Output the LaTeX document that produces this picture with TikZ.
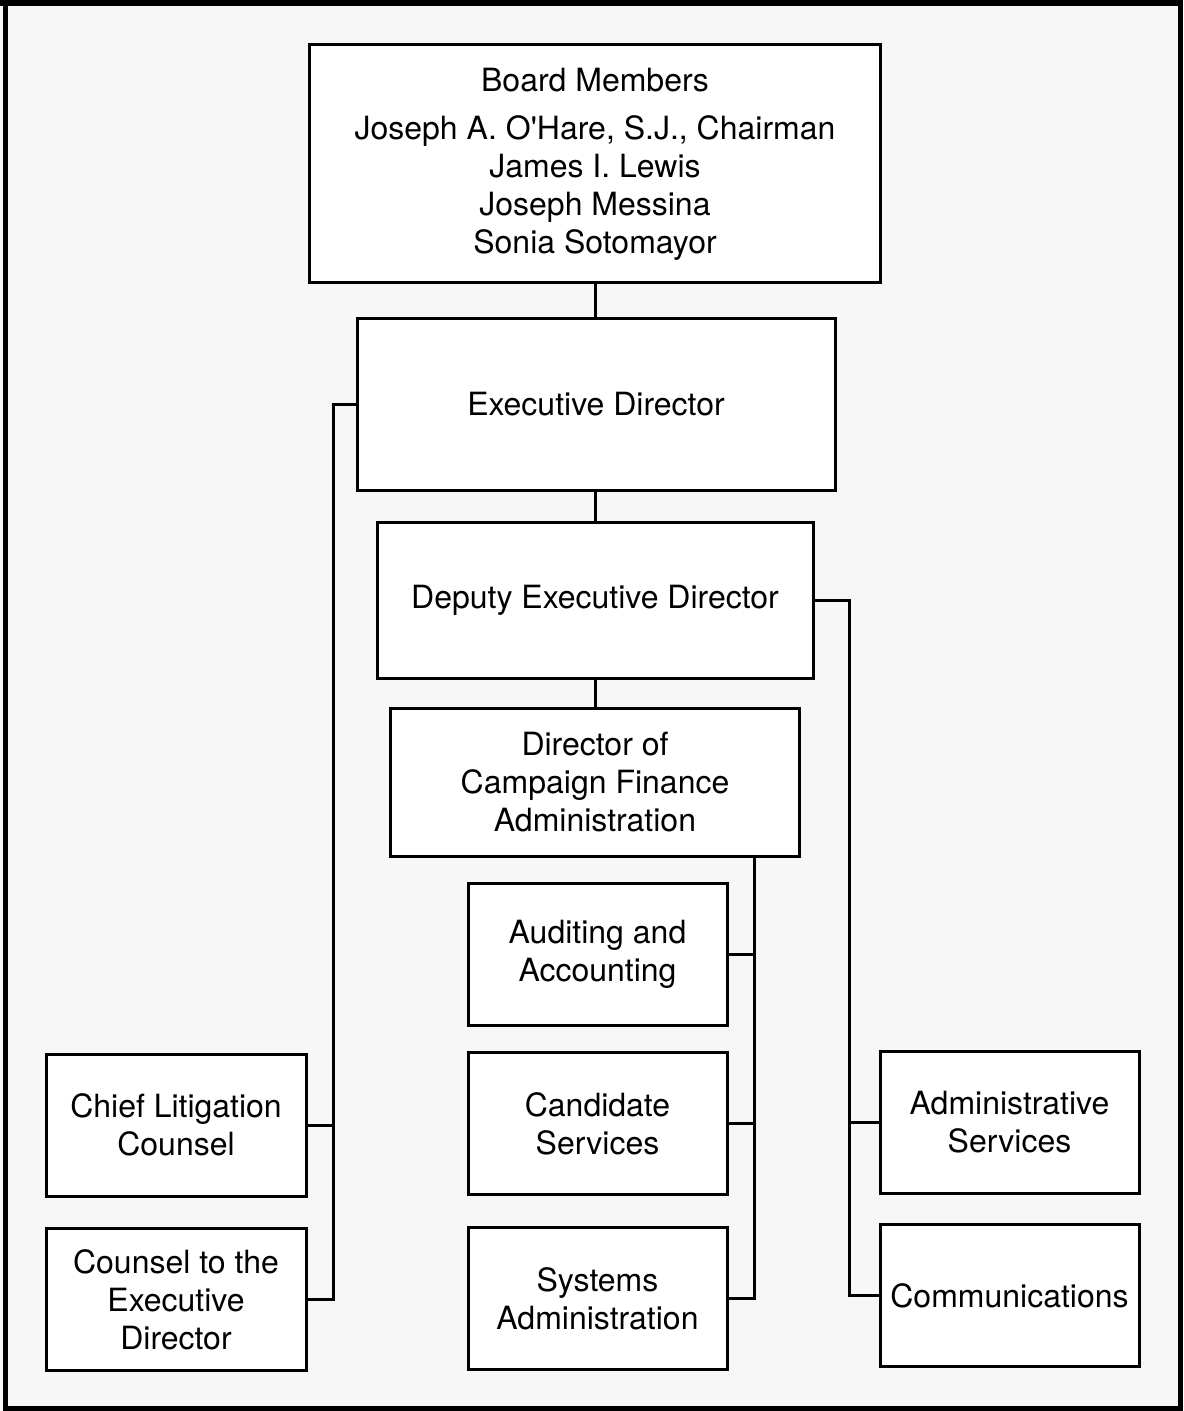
\documentclass[tikz,border=0pt]{standalone}
\usepackage{fontspec}
\setmainfont{TeX Gyre Heros}
\usepackage{tikz}
\usetikzlibrary{positioning}
\usepackage{xcolor}

\begin{document}
\begin{tikzpicture}[x=0.5pt, y=-0.5pt,
    orgbox/.style={draw, fill=white, line width=1.5pt, align=center,
        inner sep=0pt, font=\fontsize{16pt}{19pt}\selectfont},
    smallbox/.style={orgbox, minimum width=129.5pt, minimum height=71pt},
    link/.style={line width=1.5pt}]
    \useasboundingbox (0,0) rectangle (1183,1411);
    \fill[black!3] (0,0) rectangle (1183,1411);
    \draw[line width=2.5pt] (5,3) rectangle (1180,1408);
    \draw[line width=3.5pt] (0,3) -- (1183,3);

    % top of the chart
    \node[orgbox, minimum width=285.5pt, minimum height=119pt] (board) at (595,164)
        {Board Members\\[5pt] Joseph A. O\textquotesingle Hare, S.J., Chairman\\ James I. Lewis\\
         Joseph Messina\\ Sonia Sotomayor};
    \node[orgbox, minimum width=239pt, minimum height=85.5pt] (exec) at (596,404.5)
        {Executive Director};
    \node[orgbox, minimum width=218pt, minimum height=78pt] (deputy) at (595,600)
        {Deputy Executive Director};
    \node[orgbox, minimum width=204.5pt, minimum height=74pt] (director) at (595,782)
        {Director of\\ Campaign Finance\\ Administration};

    % units
    \node[smallbox] (auditing) at (597.5,954) {Auditing and\\ Accounting};
    \node[smallbox] (candidate) at (597.5,1123.5) {Candidate\\ Services};
    \node[smallbox] (systems) at (597.5,1298.5) {Systems\\ Administration};
    \node[smallbox, minimum width=130pt] (chief) at (176,1125) {Chief Litigation\\ Counsel};
    \node[smallbox, minimum width=130pt] (counsel) at (176,1299.5)
        {Counsel to the\\ Executive\\ Director};
    \node[smallbox] (admin) at (1009.5,1122) {Administrative\\ Services};
    \node[smallbox] (comm) at (1009.5,1295.5) {Communications};

    % vertical buses
    \coordinate (lbus) at (333,0);
    \coordinate (cbus) at (754,0);
    \coordinate (rbus) at (849,0);

    \draw[link] (board) -- (board |- exec.north);
    \draw[link] (deputy |- exec.south) -- (deputy);
    \draw[link] (deputy) -- (director);

    \draw[link] (exec.west) -| (lbus |- counsel.east) -- (counsel.east);
    \draw[link] (chief.east) -- (chief.east -| lbus);

    \draw[link] (director.south -| cbus) |- (systems.east);
    \draw[link] (auditing.east) -- (auditing.east -| cbus);
    \draw[link] (candidate.east) -- (candidate.east -| cbus);

    \draw[link] (deputy.east) -| (rbus |- comm.west) -- (comm.west);
    \draw[link] (admin.west) -- (admin.west -| rbus);
\end{tikzpicture}
\end{document}
